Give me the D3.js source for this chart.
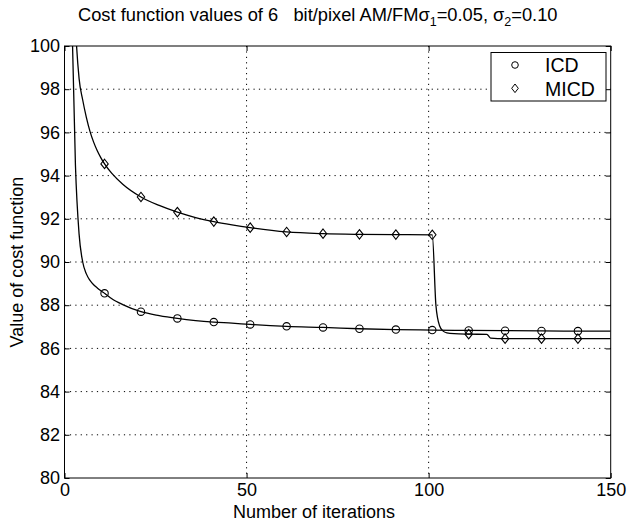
<!DOCTYPE html>
<html><head><meta charset="utf-8">
<script src="https://cdn.jsdelivr.net/npm/d3@7"></script>
<style>
body{margin:0;background:#fff}
text{font-family:"Liberation Sans",Arial,Helvetica,sans-serif;fill:#000}
</style>
</head><body><svg id="c" width="629" height="525"></svg>
<script>
// ---- data ----
const xTicks = [0, 50, 100, 150];
const yTicks = [80, 82, 84, 86, 88, 90, 92, 94, 96, 98, 100];
const seriesNames = ["ICD", "MICD"];

const icdIters  = [1, 2, 3, 4, 5, 6, 7, 8, 9, 10, 11, 13, 16, 21, 26, 31, 36, 41, 46, 51, 61, 71, 81, 91, 101, 111, 121, 131, 141, 150];
const icdValues = [112, 101.5, 94.5, 91.3, 90.0, 89.45, 89.15, 88.95, 88.8, 88.67, 88.55, 88.3, 88.03, 87.70, 87.52, 87.39, 87.29, 87.22, 87.17, 87.11, 87.02, 86.97, 86.91, 86.87, 86.85, 86.83, 86.82, 86.81, 86.80, 86.80];

const micdIters  = [1, 2, 3, 4, 5, 6, 7, 8, 9, 10, 11, 13, 16, 21, 26, 31, 36, 41, 46, 51, 61, 71, 81, 91, 101, 102, 103, 104, 105, 107, 111, 116, 117, 121, 131, 141, 150];
const micdValues = [118, 106, 101.0, 98.5, 97.5, 96.7, 96.05, 95.55, 95.15, 94.82, 94.54, 94.1, 93.6, 93.01, 92.62, 92.31, 92.06, 91.87, 91.72, 91.59, 91.39, 91.31, 91.28, 91.27, 91.26, 88.0, 87.05, 86.8, 86.72, 86.68, 86.66, 86.65, 86.48, 86.45, 86.45, 86.45, 86.45];

const markerIters = [1, 11, 21, 31, 41, 51, 61, 71, 81, 91, 101, 111, 121, 131, 141];

// ---- layout ----
const svg = d3.select("#c");
const L = 64.5, R = 610.7, T = 46, B = 478;
const x = d3.scaleLinear().domain([0, 150]).range([L, R]);
const y = d3.scaleLinear().domain([80, 100]).range([B, T]);
const FS = "18px";

svg.append("defs").append("clipPath").attr("id", "clip")
  .append("rect").attr("x", L).attr("y", T).attr("width", R - L).attr("height", B - T);

// grid
const grid = svg.append("g").attr("stroke", "#000").attr("stroke-width", 1)
  .attr("stroke-dasharray", "1.2,4.2");
grid.selectAll(".gx").data(xTicks.slice(1, -1)).enter().append("line")
  .attr("x1", d => x(d)).attr("x2", d => x(d)).attr("y1", T).attr("y2", B);
grid.selectAll(".gy").data(yTicks.slice(1, -1)).enter().append("line")
  .attr("y1", d => y(d)).attr("y2", d => y(d)).attr("x1", L).attr("x2", R);

// axes (inward ticks)
function styleAxis(g) {
  g.select(".domain").remove();
  g.selectAll("text").style("font-size", FS).attr("fill", "#000")
    .attr("font-family", "Liberation Sans, Arial, sans-serif");
  g.selectAll("line").attr("stroke", "#000");
}
svg.append("g").attr("transform", `translate(${L},0)`)
  .call(d3.axisLeft(y).tickValues(yTicks).tickSize(-5).tickPadding(4.5)).call(styleAxis);
svg.append("g").attr("transform", `translate(${R},0)`)
  .call(d3.axisRight(y).tickValues(yTicks).tickSize(-5).tickFormat("")).call(styleAxis);
svg.append("g").attr("transform", `translate(0,${B})`)
  .call(d3.axisBottom(x).tickValues(xTicks).tickSize(-5).tickPadding(5)).call(styleAxis);
svg.append("g").attr("transform", `translate(0,${T})`)
  .call(d3.axisTop(x).tickValues(xTicks).tickSize(-5).tickFormat("")).call(styleAxis);

// box
svg.append("rect").attr("x", L).attr("y", T).attr("width", R - L).attr("height", B - T)
  .attr("fill", "none").attr("stroke", "#000").attr("stroke-width", 1);

// lines
const plot = svg.append("g").attr("clip-path", "url(#clip)");
const line = d3.line().x(d => x(d[0])).y(d => y(d[1])).curve(d3.curveMonotoneX);
const icdData = icdIters.map((it, i) => [it, icdValues[i]]);
const micdData = micdIters.map((it, i) => [it, micdValues[i]]);
plot.append("path").datum(icdData).attr("d", line)
  .attr("fill", "none").attr("stroke", "#000").attr("stroke-width", 1.3);
plot.append("path").datum(micdData).attr("d", line)
  .attr("fill", "none").attr("stroke", "#000").attr("stroke-width", 1.3);

// markers
const icdMarks = icdData.filter(d => markerIters.includes(d[0]));
const micdMarks = micdData.filter(d => markerIters.includes(d[0]));
plot.selectAll(".mc").data(icdMarks).enter().append("circle")
  .attr("cx", d => x(d[0])).attr("cy", d => y(d[1])).attr("r", 3.7)
  .attr("fill", "none").attr("stroke", "#000").attr("stroke-width", 1.1);
const diamond = (cx, cy) => `M${cx},${cy - 4.7}L${cx + 3.7},${cy}L${cx},${cy + 4.7}L${cx - 3.7},${cy}Z`;
plot.selectAll(".md").data(micdMarks).enter().append("path")
  .attr("d", d => diamond(x(d[0]), y(d[1])))
  .attr("fill", "none").attr("stroke", "#000").attr("stroke-width", 1.1);

// legend
const lg = svg.append("g");
lg.append("rect").attr("x", 491).attr("y", 52.5).attr("width", 115).attr("height", 48.5)
  .attr("fill", "#fff").attr("stroke", "#000").attr("stroke-width", 1);
lg.append("circle").attr("cx", 515).attr("cy", 65).attr("r", 3.3)
  .attr("fill", "none").attr("stroke", "#000");
lg.append("path").attr("d", `M515,84L518.3,88.3L515,92.6L511.7,88.3Z`)
  .attr("fill", "none").attr("stroke", "#000");
lg.selectAll(".lt").data(seriesNames).enter().append("text")
  .attr("x", 545).attr("y", (d, i) => 72 + i * 23.5)
  .style("font-size", "19.5px").text(d => d);

// title
const title = svg.append("text").attr("x", 78).attr("y", 21)
  .style("font-size", "18.3px").attr("xml:space", "preserve").style("white-space", "pre");
title.append("tspan").text("Cost function values of 6   bit/pixel AM/FM\u03c3");
title.append("tspan").attr("dy", 5).style("font-size", "12.5px").text("1");
title.append("tspan").attr("dy", -5).text("=0.05, \u03c3");
title.append("tspan").attr("dy", 5).style("font-size", "12.5px").text("2");
title.append("tspan").attr("dy", -5).text("=0.10");

// axis labels
svg.append("text").attr("x", 314).attr("y", 518).attr("text-anchor", "middle")
  .style("font-size", FS).text("Number of iterations");
svg.append("text").attr("transform", "translate(23,262) rotate(-90)").attr("text-anchor", "middle")
  .style("font-size", FS).text("Value of cost function");
</script>
</body></html>
